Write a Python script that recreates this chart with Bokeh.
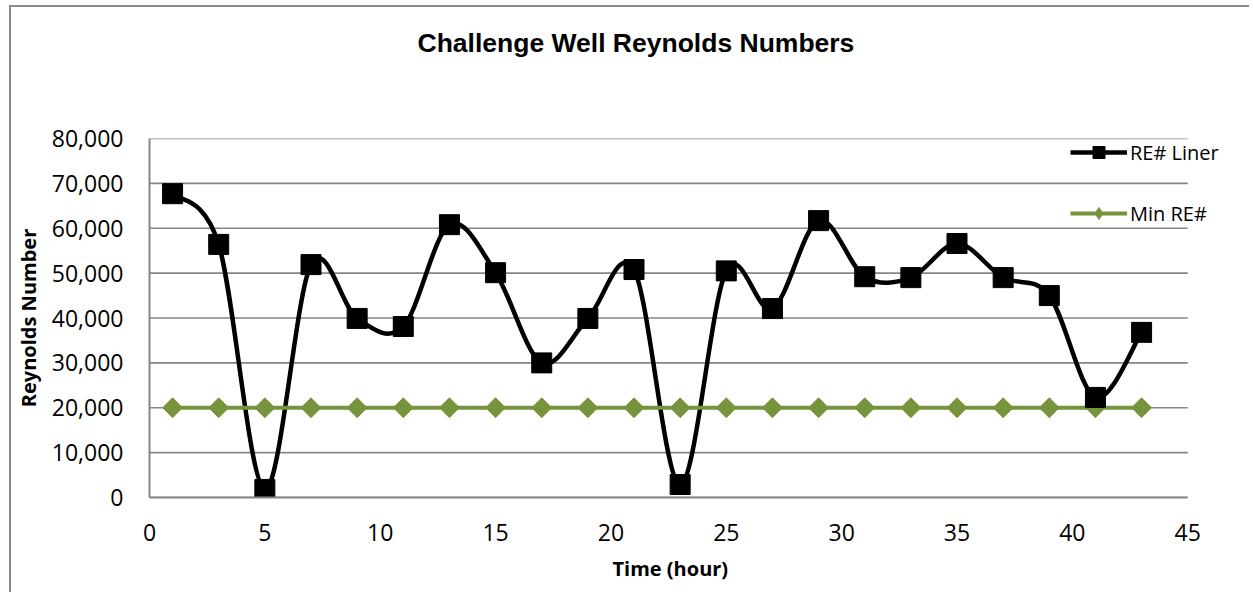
import math
from bokeh.plotting import figure
from bokeh.models import (Range1d, FixedTicker, NumeralTickFormatter, Legend, LegendItem,
                          Title)
from bokeh.embed import file_html
from bokeh.resources import INLINE

# ---- data ----
hours = [1, 3, 5, 7, 9, 11, 13, 15, 17, 19, 21, 23, 25, 27, 29, 31, 33, 35, 37, 39, 41, 43]
re_liner = [67700, 56400, 1800, 51900, 39900, 38100, 60800, 50100, 30000, 39900, 50800,
            2900, 50500, 42100, 61700, 49200, 49000, 56600, 49000, 45000, 22300, 36800]
min_re = [20000] * len(hours)
x_ticks = [0, 5, 10, 15, 20, 25, 30, 35, 40, 45]
y_ticks = [0, 10000, 20000, 30000, 40000, 50000, 60000, 70000, 80000]
x_min, x_max = 0, 45
y_min, y_max = 0, 80000

BLACK = "#000000"
GREEN = "#77933C"
GRID = "#868686"
BORDER = "#8a8a8a"

W, H = 1240, 587
BL, BT = 134, 131
FRAME_H = 359
x_view_end = x_max * (W - BL) / 1042.0

p = figure(width=W, height=H, output_backend="svg", toolbar_location=None,
           x_range=Range1d(x_min, x_view_end), y_range=Range1d(y_min, y_max),
           min_border_left=BL, min_border_right=0, min_border_top=BT,
           min_border_bottom=H - BT - FRAME_H)
p.outline_line_color = None
p.background_fill_color = "white"
p.border_fill_color = "white"
p.styles = {"border-left": "2px solid " + BORDER, "border-top": "2px solid " + BORDER,
            "margin-left": "9px", "margin-top": "5px"}

p.title.text = ""
# spacer between frame and title, then the title itself
p.add_layout(Title(text=" ", text_font_size="10px", standoff=68), "above")
p.add_layout(Title(text="Challenge Well Reynolds Numbers", text_font="Liberation Sans",
                   text_font_style="bold", text_font_size="26.5px", text_color="#000000",
                   align="left", offset=268, standoff=0), "above")

for ax in (p.xaxis[0], p.yaxis[0]):
    ax.axis_line_color = GRID
    ax.axis_line_width = 2
    ax.major_tick_line_color = None
    ax.minor_tick_line_color = None
    ax.major_tick_out = 0
    ax.major_tick_in = 0
    ax.minor_tick_out = 0
    ax.minor_tick_in = 0
    ax.major_label_text_font = "Open Sans"
    ax.major_label_text_font_size = "23px"
    ax.major_label_text_color = "#000000"
    ax.axis_label_text_font = "Open Sans"
    ax.axis_label_text_font_style = "bold"
    ax.axis_label_text_font_size = "20px"
    ax.axis_label_text_color = "#000000"

p.xaxis.ticker = FixedTicker(ticks=x_ticks)
p.yaxis.ticker = FixedTicker(ticks=y_ticks)
p.xaxis.bounds = (x_min, x_max)
p.yaxis.formatter = NumeralTickFormatter(format="0,0")
p.yaxis.axis_label = "Reynolds Number"
p.xaxis.major_label_standoff = 26
p.yaxis.major_label_standoff = 26
p.yaxis.axis_label_standoff = 7

# x axis title, centred under the 0..45 axis extent
p.add_layout(Title(text="Time (hour)", text_font="Open Sans", text_font_style="bold",
                   text_font_size="20px", text_color="#000000",
                   align="left", offset=463, standoff=19), "below")

p.xgrid.grid_line_color = None
p.ygrid.grid_line_color = None

# horizontal gridlines at the y ticks, spanning the x axis extent
p.segment(x0=[x_min] * len(y_ticks), x1=[x_max] * len(y_ticks), y0=y_ticks, y1=y_ticks,
          line_color=GRID, line_width=1.6)

# smoothed curve (Catmull-Rom style Bezier through data points)
n = len(hours)
x0s, y0s, x1s, y1s, cx0, cy0, cx1, cy1 = [], [], [], [], [], [], [], []
for i in range(n - 1):
    a = max(i - 1, 0)
    d = min(i + 2, n - 1)
    x0s.append(hours[i]); y0s.append(re_liner[i])
    x1s.append(hours[i + 1]); y1s.append(re_liner[i + 1])
    cx0.append(hours[i] + (hours[i + 1] - hours[a]) / 6.0)
    cy0.append(re_liner[i] + (re_liner[i + 1] - re_liner[a]) / 6.0)
    cx1.append(hours[i + 1] - (hours[d] - hours[i]) / 6.0)
    cy1.append(re_liner[i + 1] - (re_liner[d] - re_liner[i]) / 6.0)

p.bezier(x0=x0s, y0=y0s, x1=x1s, y1=y1s, cx0=cx0, cy0=cy0, cx1=cx1, cy1=cy1,
         line_color=BLACK, line_width=4.5)

p.line(hours, min_re, line_color=GREEN, line_width=4)
p.scatter(hours, min_re, marker="square", size=14, angle=math.pi / 4,
          fill_color=GREEN, line_color=GREEN)
p.scatter(hours, re_liner, marker="square", size=20, fill_color=BLACK, line_color=BLACK)

# legend proxies
nan = float("nan")
b_leg_line = p.line([nan], [nan], line_color=BLACK, line_width=4.5)
b_leg_pt = p.scatter([nan], [nan], marker="square", size=20, fill_color=BLACK, line_color=BLACK)
g_leg_line = p.line([nan], [nan], line_color=GREEN, line_width=4)
g_leg_pt = p.scatter([nan], [nan], marker="diamond", size=14,
                     fill_color=GREEN, line_color=GREEN)

legend = Legend(items=[LegendItem(label="RE# Liner", renderers=[b_leg_line, b_leg_pt]),
                       LegendItem(label="Min RE#", renderers=[g_leg_line, g_leg_pt])],
                location=(921, 269))
legend.border_line_color = None
legend.background_fill_alpha = 0
legend.padding = 0
legend.margin = 0
legend.glyph_width = 57
legend.glyph_height = 30
legend.spacing = 31
legend.label_standoff = 3
legend.label_text_font = "Open Sans"
legend.label_text_font_size = "20px"
legend.label_text_color = "#000000"
p.add_layout(legend, "center")

open("out.html", "w").write(file_html(p, INLINE))
